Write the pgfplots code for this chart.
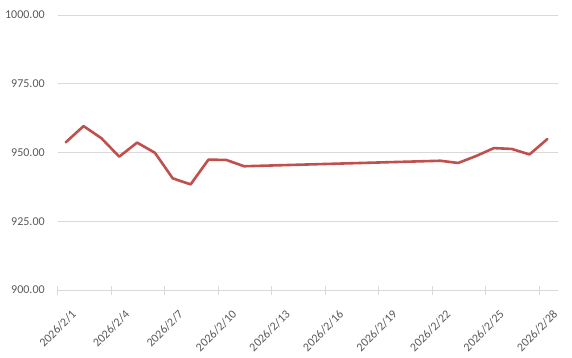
\documentclass[border=0pt]{standalone}
\usepackage{pgfplots}
\pgfplotsset{compat=1.18}
\usepackage{fontspec}
\setmainfont{Carlito}
\definecolor{linered}{HTML}{C0504D}
\definecolor{gridgray}{HTML}{D9D9D9}
\definecolor{labelgray}{HTML}{595959}
\begin{document}
\begin{tikzpicture}
\useasboundingbox (-57.7pt,-67pt) rectangle (514.3pt,290pt);
\begin{axis}[
  at={(0pt,0pt)}, anchor=south west,
  scale only axis, width=500pt, height=275pt,
  xmin=1, xmax=29.03, ymin=900, ymax=1000,
  axis x line*=bottom, axis y line*=left,
  y axis line style={draw=none},
  x axis line style={gridgray, line width=0.9pt, -},
  ytick={900,925,950,975,1000},
  ymajorgrids, grid style={gridgray, line width=0.9pt},
  ytick style={draw=none},
  xtick={1,4,7,10,13,16,19,22,25,28},
  xticklabels={2026/2/1,2026/2/4,2026/2/7,2026/2/10,2026/2/13,2026/2/16,2026/2/19,2026/2/22,2026/2/25,2026/2/28},
  xtick style={gridgray, line width=0.9pt},
  tick align=center, major tick length=9pt,
  tick label style={font=\fontsize{12}{14}\selectfont, text=labelgray},
  xticklabel style={xshift=13pt, yshift=-10pt, rotate=45, anchor=north east},
  yticklabel style={anchor=east, xshift=-5pt,
    /pgf/number format/.cd, fixed, fixed zerofill, precision=2, 1000 sep={}, assume math mode=true},
]
\addplot[linered, line width=2.6pt, line join=round, line cap=round] coordinates {
(1.45,953.7)
(2.45,959.6)
(3.45,955.2)
(4.45,948.5)
(5.45,953.6)
(6.45,949.9)
(7.45,940.6)
(8.45,938.4)
(9.45,947.4)
(10.45,947.3)
(11.45,945.0)
(22.45,947.0)
(23.45,946.2)
(24.45,948.7)
(25.45,951.6)
(26.45,951.3)
(27.45,949.3)
(28.45,954.9)
};
\end{axis}
\end{tikzpicture}
\end{document}
